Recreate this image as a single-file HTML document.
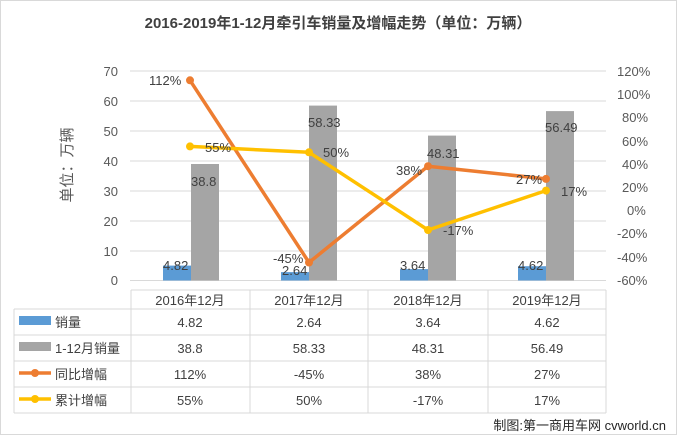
<!DOCTYPE html>
<html><head><meta charset="utf-8"><style>
body{margin:0;background:#fff;}
svg{display:block;font-family:"Liberation Sans","Noto Sans CJK SC",sans-serif;}
</style></head><body>
<svg width="677" height="439" viewBox="0 0 677 439">
<rect x="0.5" y="0.5" width="676" height="434" fill="#fff" stroke="#d9d9d9"/>
<text x="338" y="28" text-anchor="middle" font-size="15" font-weight="bold" fill="#404040">2016-2019年1-12月牵引车销量及增幅走势（单位：万辆）</text>
<g stroke="#d9d9d9" stroke-width="1">
<line x1="130" x2="606" y1="71" y2="71"/><line x1="130" x2="606" y1="101" y2="101"/>
<line x1="130" x2="606" y1="131" y2="131"/><line x1="130" x2="606" y1="161" y2="161"/>
<line x1="130" x2="606" y1="191" y2="191"/><line x1="130" x2="606" y1="221" y2="221"/>
<line x1="130" x2="606" y1="251" y2="251"/><line x1="130" x2="606" y1="280.5" y2="280.5"/>
</g>
<g font-size="13" fill="#595959" text-anchor="end">
<text x="118" y="76">70</text><text x="118" y="106">60</text><text x="118" y="136">50</text>
<text x="118" y="166">40</text><text x="118" y="196">30</text><text x="118" y="226">20</text>
<text x="118" y="256">10</text><text x="118" y="285">0</text>
</g>
<g font-size="13" fill="#595959" text-anchor="start">
<text x="617" y="76">120%</text><text x="617" y="99">100%</text><text x="622" y="122">80%</text>
<text x="622" y="146">60%</text><text x="622" y="169">40%</text><text x="622" y="192">20%</text>
<text x="627" y="215">0%</text><text x="617" y="238">-20%</text><text x="617" y="262">-40%</text>
<text x="617" y="285">-60%</text>
</g>
<text transform="translate(72,165) rotate(-90)" text-anchor="middle" font-size="15" fill="#595959">单位：万辆</text>
<g fill="#5b9bd5">
<rect x="163" y="265.6" width="28" height="14.9"/><rect x="281" y="272.1" width="28" height="8.4"/>
<rect x="400" y="269.1" width="28" height="11.4"/><rect x="518" y="266.2" width="28" height="14.3"/>
</g>
<g fill="#a5a5a5">
<rect x="191" y="164" width="28" height="116.5"/><rect x="309" y="105.6" width="28" height="174.9"/>
<rect x="428" y="135.6" width="28" height="144.9"/><rect x="546" y="111.1" width="28" height="169.4"/>
</g>
<polyline points="190,80.3 309,262.5 428,166.2 546,178.9" fill="none" stroke="#ed7d31" stroke-width="3.5" stroke-linejoin="round"/>
<polyline points="190,146.4 309,152.3 428,230 546,190.6" fill="none" stroke="#ffc000" stroke-width="3.5" stroke-linejoin="round"/>
<g fill="#ed7d31"><circle cx="190" cy="80.3" r="4"/><circle cx="309" cy="262.5" r="4"/><circle cx="428" cy="166.2" r="4"/><circle cx="546" cy="178.9" r="4"/></g>
<g fill="#ffc000"><circle cx="190" cy="146.4" r="4"/><circle cx="309" cy="152.3" r="4"/><circle cx="428" cy="230" r="4"/><circle cx="546" cy="190.6" r="4"/></g>
<g font-size="13" fill="#404040">
<text x="149" y="85">112%</text><text x="205" y="152">55%</text><text x="323" y="157">50%</text>
<text x="273" y="263">-45%</text><text x="396" y="175">38%</text><text x="443" y="235">-17%</text>
<text x="516" y="184">27%</text><text x="561" y="196">17%</text>
<text x="163" y="270">4.82</text><text x="282" y="275">2.64</text><text x="400" y="270">3.64</text><text x="518" y="270">4.62</text>
<text x="191" y="186">38.8</text><text x="308" y="127">58.33</text><text x="427" y="158">48.31</text><text x="545" y="132">56.49</text>
</g>
<g stroke="#d9d9d9" fill="none">
<line x1="131" y1="290" x2="606" y2="290"/>
<line x1="14" y1="309" x2="606" y2="309"/><line x1="14" y1="335" x2="606" y2="335"/>
<line x1="14" y1="361" x2="606" y2="361"/><line x1="14" y1="387" x2="606" y2="387"/>
<line x1="14" y1="413" x2="606" y2="413"/>
<line x1="14" y1="309" x2="14" y2="413"/><line x1="131" y1="290" x2="131" y2="413"/>
<line x1="250" y1="290" x2="250" y2="413"/><line x1="368" y1="290" x2="368" y2="413"/>
<line x1="488" y1="290" x2="488" y2="413"/><line x1="606" y1="290" x2="606" y2="413"/>
</g>
<rect x="19" y="316" width="32" height="9" fill="#5b9bd5"/>
<rect x="19" y="342" width="32" height="9" fill="#a5a5a5"/>
<line x1="19" y1="373" x2="51" y2="373" stroke="#ed7d31" stroke-width="3.5"/><circle cx="35" cy="373" r="4" fill="#ed7d31"/>
<line x1="19" y1="399" x2="51" y2="399" stroke="#ffc000" stroke-width="3.5"/><circle cx="35" cy="399" r="4" fill="#ffc000"/>
<g font-size="13" fill="#404040">
<text x="55" y="327">销量</text><text x="55" y="353">1-12月销量</text>
<text x="55" y="379">同比增幅</text><text x="55" y="405">累计增幅</text>
</g>
<g font-size="13" fill="#404040" text-anchor="middle">
<text x="190" y="305">2016年12月</text><text x="309" y="305">2017年12月</text><text x="428" y="305">2018年12月</text><text x="547" y="305">2019年12月</text>
<text x="190" y="327">4.82</text><text x="309" y="327">2.64</text><text x="428" y="327">3.64</text><text x="547" y="327">4.62</text>
<text x="190" y="353">38.8</text><text x="309" y="353">58.33</text><text x="428" y="353">48.31</text><text x="547" y="353">56.49</text>
<text x="190" y="379">112%</text><text x="309" y="379">-45%</text><text x="428" y="379">38%</text><text x="547" y="379">27%</text>
<text x="190" y="405">55%</text><text x="309" y="405">50%</text><text x="428" y="405">-17%</text><text x="547" y="405">17%</text>
</g>
<text x="666" y="430" text-anchor="end" font-size="13" fill="#262626">制图:第一商用车网 cvworld.cn</text>
</svg>
</body></html>
